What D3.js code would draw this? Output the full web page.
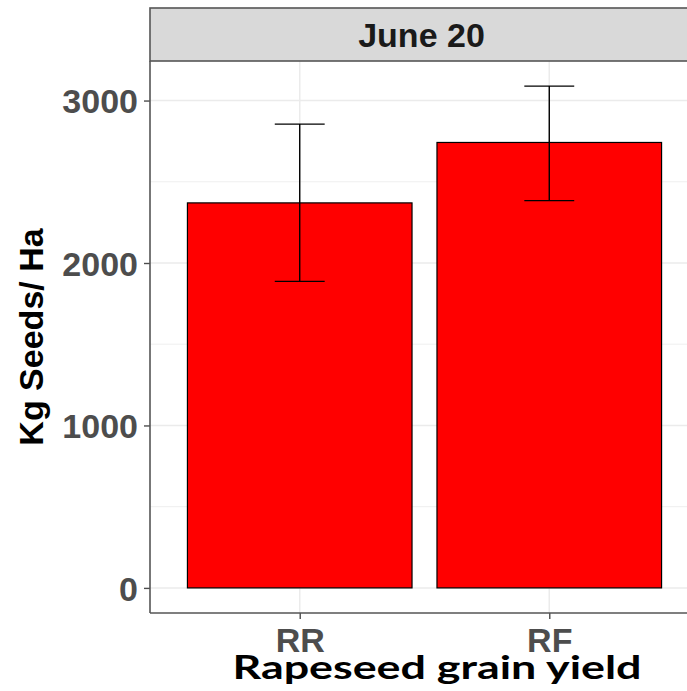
<!DOCTYPE html>
<html lang="en">
<head>
<meta charset="utf-8">
<title>Rapeseed grain yield</title>
<script src="https://d3js.org/d3.v7.min.js"></script>
<style>
  body { margin: 0; background: #fff; }
  svg { display: block; }
</style>
</head>
<body>
<svg id="chart" width="687" height="691"></svg>
<script>
// data
var categories = ["RR", "RF"];
var meanYield = [2370, 2742];
var lowerYield = [1887, 2384];
var upperYield = [2855, 3089];
var yTicks = [0, 1000, 2000, 3000];
var yMinorTicks = [500, 1500, 2500];
var stripLabel = "June 20";
var yLabel = "Kg Seeds/ Ha";
var caption = "Rapeseed grain yield";

var svg = d3.select("#chart"),
    panelLeft = 150,
    panelRight = 699,   // panel runs past the right edge of the picture
    panelTop = 61,
    panelBottom = 613,
    stripTop = 8;

// ggplot-like expansions: 0.6 units on a discrete axis, 5% on a continuous one
var xScale = d3.scalePoint().domain(categories).range([panelLeft, panelRight]).padding(0.6);
var step = xScale.step();

var yMax = d3.max(upperYield), yMin = 0;
var pad = (yMax - yMin) * 0.05;
var yScale = d3.scaleLinear().domain([yMin - pad, yMax + pad]).range([panelBottom, panelTop]);

var g = svg.append("g");

// grid lines
g.selectAll(".minor").data(yMinorTicks).enter().append("line")
  .attr("x1", panelLeft).attr("x2", panelRight)
  .attr("y1", function(d) { return yScale(d); })
  .attr("y2", function(d) { return yScale(d); })
  .attr("stroke", "#ebebeb").attr("stroke-width", 0.8);

g.selectAll(".major").data(yTicks).enter().append("line")
  .attr("x1", panelLeft).attr("x2", panelRight)
  .attr("y1", function(d) { return yScale(d); })
  .attr("y2", function(d) { return yScale(d); })
  .attr("stroke", "#ebebeb").attr("stroke-width", 1.5);

g.selectAll(".vgrid").data(categories).enter().append("line")
  .attr("x1", function(d) { return xScale(d); })
  .attr("x2", function(d) { return xScale(d); })
  .attr("y1", panelTop).attr("y2", panelBottom)
  .attr("stroke", "#ebebeb").attr("stroke-width", 1.5);

// bars
g.selectAll(".bar").data(categories).enter().append("rect")
  .attr("x", function(d) { return xScale(d) - step * 0.45; })
  .attr("width", step * 0.9)
  .attr("y", function(d, i) { return yScale(meanYield[i]); })
  .attr("height", function(d, i) { return yScale(0) - yScale(meanYield[i]); })
  .attr("fill", "#ff0000")
  .attr("stroke", "#000")
  .attr("stroke-width", 1.2);

// error bars
var eb = g.selectAll(".err").data(categories).enter().append("g").attr("stroke", "#000").attr("stroke-width", 1.4);
eb.append("line")
  .attr("x1", function(d) { return xScale(d); })
  .attr("x2", function(d) { return xScale(d); })
  .attr("y1", function(d, i) { return yScale(lowerYield[i]); })
  .attr("y2", function(d, i) { return yScale(upperYield[i]); });
eb.append("line")
  .attr("x1", function(d) { return xScale(d) - step * 0.1; })
  .attr("x2", function(d) { return xScale(d) + step * 0.1; })
  .attr("y1", function(d, i) { return yScale(upperYield[i]); })
  .attr("y2", function(d, i) { return yScale(upperYield[i]); });
eb.append("line")
  .attr("x1", function(d) { return xScale(d) - step * 0.1; })
  .attr("x2", function(d) { return xScale(d) + step * 0.1; })
  .attr("y1", function(d, i) { return yScale(lowerYield[i]); })
  .attr("y2", function(d, i) { return yScale(lowerYield[i]); });

// axes
var yAxis = svg.append("g")
  .attr("transform", "translate(" + panelLeft + ",0)")
  .call(d3.axisLeft(yScale).tickValues(yTicks).tickFormat(d3.format("d")).tickSize(6).tickPadding(6));
var xAxis = svg.append("g")
  .attr("transform", "translate(0," + panelBottom + ")")
  .call(d3.axisBottom(xScale).tickSize(6).tickPadding(9));

[yAxis, xAxis].forEach(function(a) {
  a.select(".domain").remove();
  a.selectAll(".tick line").attr("stroke", "#4d4d4d").attr("stroke-width", 1.4);
  a.selectAll(".tick text")
    .attr("fill", "#4d4d4d")
    .style("font-family", "'Liberation Sans', Arial, sans-serif")
    .style("font-weight", "bold")
    .style("font-size", "34px");
});
yAxis.selectAll(".tick text").attr("dy", "0.36em");
xAxis.selectAll(".tick text").attr("dy", "0.71em");

// axis lines (left and bottom)
svg.append("line").attr("x1", panelLeft).attr("x2", panelLeft)
  .attr("y1", panelTop).attr("y2", panelBottom)
  .attr("stroke", "#555").attr("stroke-width", 1.6);
svg.append("line").attr("x1", panelLeft).attr("x2", panelRight)
  .attr("y1", panelBottom).attr("y2", panelBottom)
  .attr("stroke", "#555").attr("stroke-width", 1.6);

// facet strip
svg.append("rect")
  .attr("x", panelLeft).attr("y", stripTop)
  .attr("width", panelRight - panelLeft).attr("height", panelTop - stripTop)
  .attr("fill", "#d9d9d9").attr("stroke", "#555").attr("stroke-width", 1.6);
svg.append("text")
  .attr("x", (panelLeft + panelRight) / 2 - 3)
  .attr("y", 47)
  .attr("text-anchor", "middle")
  .attr("fill", "#1a1a1a")
  .style("font-family", "'Liberation Sans', Arial, sans-serif")
  .style("font-weight", "bold")
  .style("font-size", "34px")
  .text(stripLabel);

// y title
svg.append("text")
  .attr("transform", "translate(43," + (panelTop + panelBottom) / 2 + ") rotate(-90)")
  .attr("text-anchor", "middle")
  .attr("fill", "#000")
  .style("font-family", "'Liberation Sans', Arial, sans-serif")
  .style("font-weight", "bold")
  .style("font-size", "34px")
  .text(yLabel);

// caption under the plot
var cap = svg.append("text")
  .attr("x", 437)
  .attr("y", 679)
  .attr("text-anchor", "middle")
  .attr("fill", "#000")
  .style("font-family", "Lato, 'Open Sans', sans-serif")
  .style("font-weight", "bold")
  .style("font-size", "33px")
  .text(caption);
var w = cap.node().getComputedTextLength();
if (Math.abs(w - 409) > 4) {
  cap.attr("textLength", 409).attr("lengthAdjust", "spacingAndGlyphs");
}
</script>
</body>
</html>
